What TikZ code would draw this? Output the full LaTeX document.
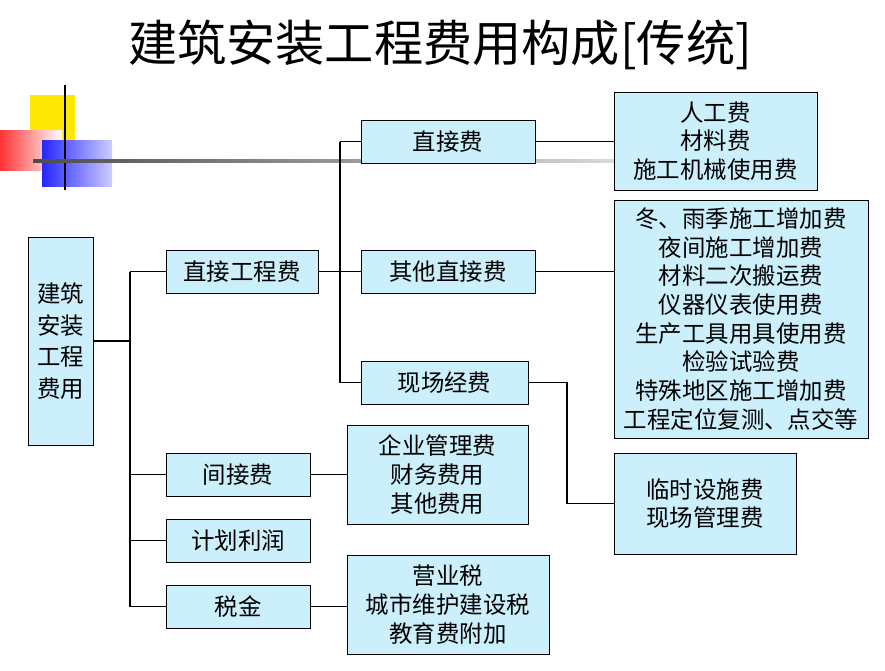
\documentclass[tikz,border=0pt]{standalone}
\usepackage{fontspec}
\setmainfont{Noto Sans CJK SC}
\begin{document}
\begin{tikzpicture}[x=0.03cm,y=-0.03cm,
  bx/.style={draw=black,line width=0.8pt,fill=cyan!20,align=center,inner sep=0pt,font=\fontsize{20}{24.5}\selectfont},
  ln/.style={line width=0.9pt}]
\useasboundingbox (0,0) rectangle (885,671);
\fill[white] (0,0) rectangle (885,671);
\node[font=\fontsize{42}{46}\selectfont] (title) at (440,45) {建筑安装工程费用构成[传统]};
% decoration
\fill[yellow!90!orange] (30,95) rectangle (75,140);
\shade[left color=red!80,right color=white] (0,130) rectangle (62,170);
\shade[left color=blue!85,right color=blue!20] (42,140) rectangle (112,186);
\draw[line width=1.5pt] (65,85) -- (65,190);
\shade[left color=black!70,right color=black!15] (33,159) rectangle (614,162);
% boxes
\node[bx,minimum width=1.95cm,minimum height=6.24cm,font=\fontsize{20}{27}\selectfont] (root) at (60.5,341) {建筑\\安装\\工程\\费用};
\node[bx,minimum width=4.56cm,minimum height=1.29cm] (zjgc) at (242,271.5) {直接工程费};
\node[bx,minimum width=4.32cm,minimum height=1.29cm] (jjf) at (238,474.5) {间接费};
\node[bx,minimum width=4.32cm,minimum height=1.29cm] (jhlr) at (238,540.5) {计划利润};
\node[bx,minimum width=4.32cm,minimum height=1.29cm] (sj) at (238,606.5) {税金};
\node[bx,minimum width=5.22cm,minimum height=1.29cm] (zjf) at (448,141.5) {直接费};
\node[bx,minimum width=5.22cm,minimum height=1.29cm] (qt) at (448,271.5) {其他直接费};
\node[bx,minimum width=5.01cm,minimum height=1.29cm] (xc) at (444.5,382.5) {现场经费};
\node[bx,minimum width=6.09cm,minimum height=2.94cm] (rg) at (715.5,141) {人工费\\材料费\\施工机械使用费};
\node[bx,minimum width=7.62cm,minimum height=7.14cm,font=\fontsize{20}{24.5}\selectfont] (dy) at (741,319) {冬、雨季施工增加费\\夜间施工增加费\\材料二次搬运费\\仪器仪表使用费\\生产工具用具使用费\\检验试验费\\特殊地区施工增加费\\工程定位复测、点交等};
\node[bx,minimum width=5.46cm,minimum height=3.03cm] (ls) at (705,503.5) {临时设施费\\现场管理费};
\node[bx,minimum width=5.43cm,minimum height=2.97cm] (qy) at (437.5,474.5) {企业管理费\\财务费用\\其他费用};
\node[bx,minimum width=6.06cm,minimum height=2.97cm] (yy) at (448,604.5) {营业税\\城市维护建设税\\教育费附加};
% connectors
\coordinate (a) at (130,341);
\draw[ln] (root.east) -- (a);
\draw[ln] (130,271.5) -- (130,606.5);
\draw[ln] (130,271.5) -- (zjgc.west);
\draw[ln] (130,474.5) -- (jjf.west);
\draw[ln] (130,540.5) -- (jhlr.west);
\draw[ln] (130,606.5) -- (sj.west);
\draw[ln] (zjgc.east) -- (340,271.5);
\draw[ln] (340,141.5) -- (340,382.5);
\draw[ln] (340,141.5) -- (zjf.west);
\draw[ln] (340,271.5) -- (qt.west);
\draw[ln] (340,382.5) -- (xc.west);
\draw[ln] (zjf.east) -- (zjf.east -| rg.west);
\draw[ln] (qt.east) -- (qt.east -| dy.west);
\draw[ln] (xc.east) -- (567,382.5) -- (567,503.5) -- (ls.west);
\draw[ln] (jjf.east) -- (jjf.east -| qy.west);
\draw[ln] (sj.east) -- (sj.east -| yy.west);
\end{tikzpicture}
\end{document}
